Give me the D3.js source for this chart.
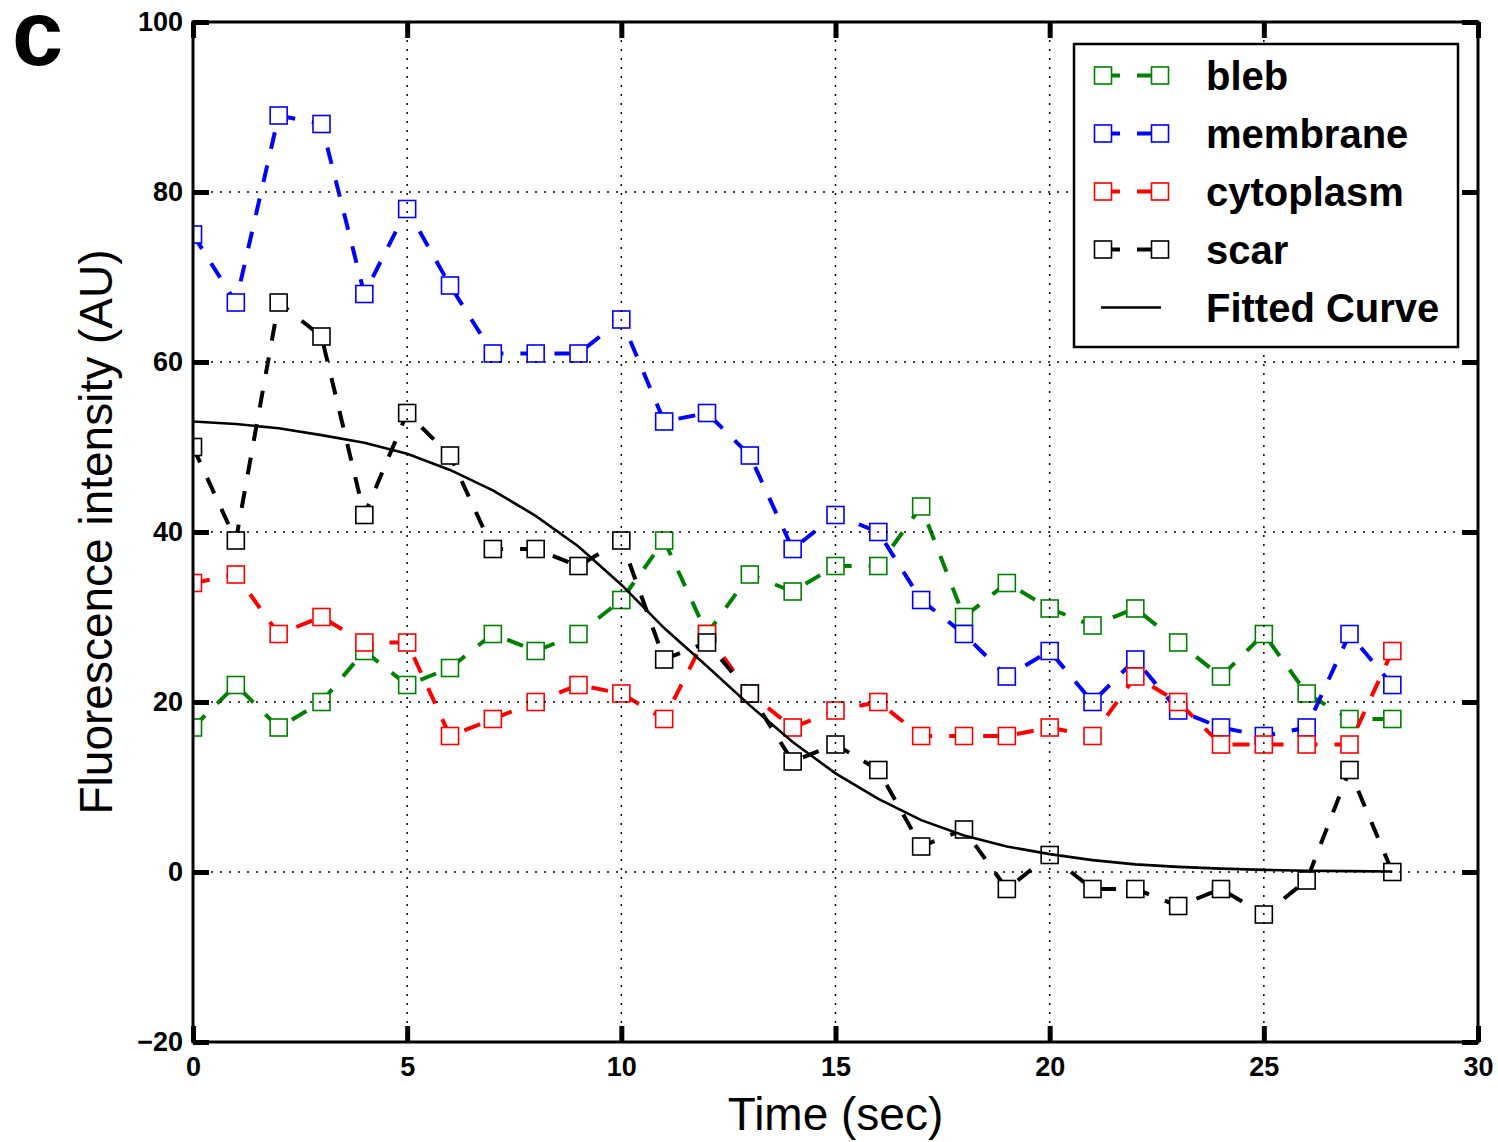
<!DOCTYPE html>
<html>
<head>
<meta charset="utf-8">
<script src="https://cdn.jsdelivr.net/npm/d3@7"></script>
<style>
  body { margin: 0; background: #fff; }
  svg { display: block; font-family: "Liberation Sans", Arial, sans-serif; }
</style>
</head>
<body>
<svg id="chart" width="1498" height="1142"></svg>
<script>
// time points (sec)
const times = [0, 1, 2, 3, 4, 5, 6, 7, 8, 9, 10, 11, 12, 13, 14, 15, 16, 17, 18, 19, 20, 21, 22, 23, 24, 25, 26, 27, 28];

// series
const bleb = [17, 22, 17, 20, 26, 22, 24, 28, 26, 28, 32, 39, 28, 35, 33, 36, 36, 43, 30, 34, 31, 29, 31, 27, 23, 28, 21, 18, 18];
const membrane = [75, 67, 89, 88, 68, 78, 69, 61, 61, 61, 65, 53, 54, 49, 38, 42, 40, 32, 28, 23, 26, 20, 25, 19, 17, 16, 17, 28, 22];
const cytoplasm = [34, 35, 28, 30, 27, 27, 16, 18, 20, 22, 21, 18, 28, 21, 17, 19, 20, 16, 16, 16, 17, 16, 23, 20, 15, 15, 15, 15, 26];
const scar = [50, 39, 67, 63, 42, 54, 49, 38, 38, 36, 39, 25, 27, 21, 13, 15, 12, 3, 5, -2, 2, -2, -2, -4, -2, -5, -1, 12, 0];
const fitted = [53.0, 52.7, 52.2, 51.4, 50.5, 49.2, 47.3, 44.9, 41.9, 38.3, 33.8, 28.7, 24.2, 19.6, 15.3, 11.6, 8.6, 6.1, 4.3, 3.0, 2.1, 1.4, 0.9, 0.6, 0.4, 0.25, 0.15, 0.1, 0.05];

const seriesNames = ["bleb", "membrane", "cytoplasm", "scar"];
const seriesColors = ["#008000", "#0000ff", "#ff0000", "#000000"];
const seriesValues = [bleb, membrane, cytoplasm, scar];

const xTicks = [0, 5, 10, 15, 20, 25, 30];
const yTicks = [-20, 0, 20, 40, 60, 80, 100];

const plotLeft = 193, plotRight = 1478, plotTop = 22, plotBottom = 1042;

const svg = d3.select("#chart");

const x = d3.scaleLinear().domain([0, 30]).range([plotLeft, plotRight]);
const y = d3.scaleLinear().domain([-20, 100]).range([plotBottom, plotTop]);

svg.append("defs").append("clipPath").attr("id", "plotclip")
  .append("rect")
  .attr("x", plotLeft).attr("y", plotTop)
  .attr("width", plotRight - plotLeft).attr("height", plotBottom - plotTop);

const plot = svg.append("g").attr("clip-path", "url(#plotclip)");

const line = d3.line()
  .x((d) => x(d[0]))
  .y((d) => y(d[1]));

const msize = 17;

seriesValues.forEach((vals, i) => {
  const pts = times.map((t, k) => [t, vals[k]]);
  plot.append("path")
    .attr("d", line(pts))
    .attr("fill", "none")
    .attr("stroke", seriesColors[i])
    .attr("stroke-width", 4)
    .attr("stroke-dasharray", "17,17");

  plot.selectAll(".m" + i)
    .data(pts)
    .enter()
    .append("rect")
    .attr("class", "m" + i)
    .attr("x", (d) => x(d[0]) - msize / 2)
    .attr("y", (d) => y(d[1]) - msize / 2)
    .attr("width", msize)
    .attr("height", msize)
    .attr("fill", "#fff")
    .attr("stroke", seriesColors[i])
    .attr("stroke-width", 1.6);
});

plot.append("path")
  .attr("d", line(times.map((t, k) => [t, fitted[k]])))
  .attr("fill", "none")
  .attr("stroke", "#000")
  .attr("stroke-width", 2.6);

// dotted grid
const grid = svg.append("g")
  .attr("stroke", "#000")
  .attr("stroke-width", 1.5)
  .attr("stroke-dasharray", "2,7");

grid.selectAll(".gx")
  .data(xTicks.filter((t) => t > 0 && t < 30))
  .enter()
  .append("line")
  .attr("x1", (d) => x(d)).attr("x2", (d) => x(d))
  .attr("y1", plotTop).attr("y2", plotBottom);

grid.selectAll(".gy")
  .data(yTicks.filter((t) => t > -20 && t < 100))
  .enter()
  .append("line")
  .attr("x1", plotLeft).attr("x2", plotRight)
  .attr("y1", (d) => y(d)).attr("y2", (d) => y(d));

// axes with inward ticks on all four sides
const styleAxis = (g) => {
  g.select(".domain").remove();
  g.selectAll(".tick line").attr("stroke", "#000").attr("stroke-width", 5);
  g.selectAll(".tick text")
    .attr("fill", "#000")
    .style("font-size", "27px")
    .style("font-weight", "bold")
    .style("font-family", "'Liberation Sans', Arial, sans-serif");
};

svg.append("g")
  .attr("transform", "translate(0," + plotBottom + ")")
  .call(d3.axisBottom(x).tickValues(xTicks).tickSizeInner(-16).tickSizeOuter(0).tickPadding(15))
  .call(styleAxis);

svg.append("g")
  .attr("transform", "translate(0," + plotTop + ")")
  .call(d3.axisTop(x).tickValues(xTicks).tickSizeInner(-16).tickSizeOuter(0).tickFormat(""))
  .call(styleAxis);

svg.append("g")
  .attr("transform", "translate(" + plotLeft + ",0)")
  .call(d3.axisLeft(y).tickValues(yTicks).tickSizeInner(-16).tickSizeOuter(0).tickPadding(10)
    .tickFormat((d) => (d < 0 ? "\u2212" + Math.abs(d) : d)))
  .call(styleAxis);

svg.append("g")
  .attr("transform", "translate(" + plotRight + ",0)")
  .call(d3.axisRight(y).tickValues(yTicks).tickSizeInner(-16).tickSizeOuter(0).tickFormat(""))
  .call(styleAxis);

svg.append("rect")
  .attr("x", plotLeft).attr("y", plotTop)
  .attr("width", plotRight - plotLeft).attr("height", plotBottom - plotTop)
  .attr("fill", "none")
  .attr("stroke", "#000")
  .attr("stroke-width", 3);

// axis labels
svg.append("text")
  .attr("x", x(15)).attr("y", 1130)
  .attr("text-anchor", "middle")
  .style("font-size", "46px")
  .text("Time (sec)");

svg.append("text")
  .attr("transform", "translate(112,532) rotate(-90)")
  .attr("text-anchor", "middle")
  .style("font-size", "46px")
  .text("Fluorescence intensity (AU)");

// panel letter
svg.append("text")
  .attr("x", 12).attr("y", 65)
  .style("font-size", "92px")
  .style("font-weight", "bold")
  .text("c");

// legend
const legend = svg.append("g");
legend.append("rect")
  .attr("x", 1074).attr("y", 44)
  .attr("width", 384).attr("height", 303)
  .attr("fill", "#fff")
  .attr("stroke", "#000")
  .attr("stroke-width", 2.5);

seriesNames.forEach((name, i) => {
  const cy = 75.5 + i * 58;
  legend.append("line")
    .attr("x1", 1103).attr("x2", 1160)
    .attr("y1", cy).attr("y2", cy)
    .attr("stroke", seriesColors[i])
    .attr("stroke-width", 4)
    .attr("stroke-dasharray", "17,17");
  [1103, 1160].forEach((cx) => {
    legend.append("rect")
      .attr("x", cx - msize / 2).attr("y", cy - msize / 2)
      .attr("width", msize).attr("height", msize)
      .attr("fill", "#fff")
      .attr("stroke", seriesColors[i])
      .attr("stroke-width", 1.6);
  });
  legend.append("text")
    .attr("x", 1206).attr("y", cy + 14)
    .style("font-size", "40px")
    .style("font-weight", "bold")
    .text(name);
});

legend.append("line")
  .attr("x1", 1101).attr("x2", 1161)
  .attr("y1", 75.5 + 4 * 58).attr("y2", 75.5 + 4 * 58)
  .attr("stroke", "#000")
  .attr("stroke-width", 2.6);
legend.append("text")
  .attr("x", 1206).attr("y", 75.5 + 4 * 58 + 14)
  .style("font-size", "40px")
  .style("font-weight", "bold")
  .text("Fitted Curve");
</script>
</body>
</html>
